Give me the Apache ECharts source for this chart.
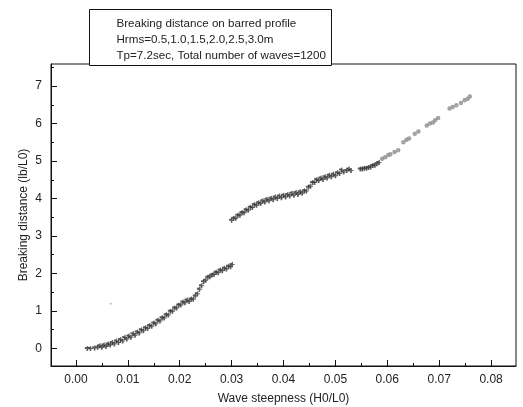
<!DOCTYPE html>
<html>
<head>
<meta charset="utf-8">
<script src="https://cdn.jsdelivr.net/npm/echarts@6/dist/echarts.min.js"></script>
<style>
  html, body { margin: 0; padding: 0; background: #fff; }
  #chart { width: 523px; height: 407px; }
</style>
</head>
<body>
<div id="chart"></div>
<script>
// Breaking distance (lb/L0) against deep-water wave steepness (H0/L0)

// Lower branch: steepness, breaking distance
const lowerBranch = [
  [0.0022,0.00],[0.0028,0.00],[0.0036,0.01],[0.0042,0.03],[0.0046,0.07],[0.0050,0.03],
  [0.0054,0.09],[0.0058,0.05],[0.0062,0.12],[0.0066,0.09],[0.0070,0.16],[0.0074,0.12],
  [0.0078,0.20],[0.0082,0.16],[0.0086,0.24],[0.0090,0.20],[0.0094,0.29],[0.0098,0.25],
  [0.0102,0.33],[0.0106,0.30],[0.0110,0.39],[0.0114,0.35],[0.0118,0.44],[0.0122,0.41],
  [0.0126,0.50],[0.0130,0.47],[0.0134,0.55],[0.0138,0.53],[0.0142,0.61],[0.0146,0.59],
  [0.0150,0.68],[0.0154,0.66],[0.0158,0.75],[0.0162,0.73],[0.0166,0.82],[0.0170,0.81],
  [0.0174,0.90],[0.0178,0.89],[0.0182,0.99],[0.0186,0.99],[0.0190,1.08],[0.0194,1.08],
  [0.0198,1.16],[0.0202,1.16],[0.0206,1.24],[0.0210,1.22],[0.0214,1.29],[0.0218,1.25],
  [0.0222,1.32],[0.0226,1.31],[0.0230,1.40],[0.0234,1.46],[0.0238,1.58],[0.0242,1.67],
  [0.0246,1.78],[0.0250,1.82],[0.0254,1.90],[0.0258,1.91],[0.0262,1.96],[0.0266,1.97],
  [0.0270,2.03],[0.0274,2.02],[0.0278,2.09],[0.0282,2.07],[0.0286,2.14],[0.0290,2.12],
  [0.0294,2.19],[0.0298,2.18],[0.0301,2.24]
];

// Upper branch after the jump at H0/L0 = 0.03
const upperBranch = [
  [0.0300,3.42],[0.0304,3.47],[0.0308,3.47],[0.0312,3.55],[0.0316,3.55],[0.0320,3.63],
  [0.0324,3.62],[0.0328,3.70],[0.0332,3.69],[0.0336,3.77],[0.0340,3.76],[0.0344,3.84],
  [0.0348,3.82],[0.0352,3.89],[0.0356,3.87],[0.0360,3.94],[0.0364,3.91],[0.0368,3.98],
  [0.0372,3.94],[0.0376,4.01],[0.0380,3.97],[0.0384,4.04],[0.0388,4.00],[0.0392,4.07],
  [0.0396,4.02],[0.0400,4.09],[0.0404,4.04],[0.0408,4.11],[0.0412,4.07],[0.0416,4.14],
  [0.0420,4.09],[0.0424,4.16],[0.0428,4.11],[0.0432,4.18],[0.0436,4.14],[0.0440,4.21],
  [0.0444,4.20],[0.0448,4.30],[0.0452,4.33],[0.0456,4.43],[0.0460,4.43],[0.0464,4.51],
  [0.0468,4.48],[0.0472,4.55],[0.0476,4.51],[0.0480,4.58],[0.0484,4.55],[0.0488,4.62],
  [0.0492,4.58],[0.0496,4.65],[0.0500,4.61],[0.0504,4.69],[0.0508,4.67],[0.0512,4.76],
  [0.0516,4.71],[0.0522,4.75],[0.0526,4.79],[0.0530,4.75],
  [0.0548,4.79],[0.0552,4.79],[0.0556,4.81],[0.0560,4.81],[0.0564,4.83],[0.0568,4.84],
  [0.0572,4.88],[0.0576,4.89],[0.0580,4.93],[0.0584,4.96]
];

// Steepest waves: scattered points
const steepTail = [
  [0.0590,5.06],[0.0596,5.10],[0.0602,5.16],[0.0606,5.18],[0.0614,5.24],[0.0621,5.29],
  [0.0631,5.50],[0.0637,5.57],[0.0642,5.60],[0.0653,5.73],[0.0660,5.79],[0.0676,5.95],
  [0.0682,6.00],[0.0688,6.03],[0.0692,6.09],[0.0698,6.15],[0.0720,6.40],[0.0726,6.44],
  [0.0733,6.49],[0.0742,6.55],[0.0749,6.62],[0.0755,6.66],[0.0759,6.72]
];

// Lone stray point
const strayPoints = [[0.0067,1.19]];

const xMajorTicks = [0.00,0.01,0.02,0.03,0.04,0.05,0.06,0.07,0.08];
const xMinorTicks = [0.005,0.015,0.025,0.035,0.045,0.055,0.065,0.075];
const yMajorTicks = [0,1,2,3,4,5,6,7];
const yMinorTicks = [0.5,1.5,2.5,3.5,4.5,5.5,6.5,7.5];

const noteLines = [
  'Breaking distance on barred profile',
  'Hrms=0.5,1.0,1.5,2.0,2.5,3.0m',
  'Tp=7.2sec, Total number of waves=1200'
];

const FONT = '"Liberation Sans", Arial, sans-serif';
const X_MIN = -0.0048, X_MAX = 0.0848;
const Y_MIN = -0.467, Y_MAX = 7.587;
const plusSymbol = 'path://M4,0h2v4h4v2h-4v4h-4v-4h-4v-4h4z';

const chart = echarts.init(document.getElementById('chart'), null, { renderer: 'canvas' });

const baseX = {
  type: 'value', min: X_MIN, max: X_MAX,
  splitLine: { show: false }
};
const baseY = {
  type: 'value', min: Y_MIN, max: Y_MAX,
  splitLine: { show: false }
};

chart.setOption({
  animation: false,
  backgroundColor: '#fff',
  grid: {
    left: 51, right: 7, top: 64, bottom: 41,
    outerBoundsMode: 'none', containLabel: false,
    show: true, borderColor: '#111', borderWidth: 1, backgroundColor: 'transparent'
  },
  xAxis: [
    Object.assign({}, baseX, {
      name: 'Wave steepness (H0/L0)',
      nameLocation: 'middle', nameGap: 27, nameMoveOverlap: false,
      nameTextStyle: { fontFamily: FONT, fontSize: 12, color: '#222' },
      axisLine: { show: true, onZero: false, lineStyle: { color: '#111', width: 1 } },
      axisTick: { show: true, inside: true, length: 6, customValues: xMajorTicks, lineStyle: { color: '#111' } },
      axisLabel: {
        show: true, customValues: xMajorTicks, margin: 8,
        fontFamily: FONT, fontSize: 12, color: '#222',
        formatter: v => v.toFixed(2)
      }
    }),
    Object.assign({}, baseX, {
      position: 'bottom',
      axisLine: { show: false, onZero: false },
      axisTick: { show: true, inside: true, length: 3, customValues: xMinorTicks, lineStyle: { color: '#111' } },
      axisLabel: { show: false }
    })
  ],
  yAxis: [
    Object.assign({}, baseY, {
      name: 'Breaking distance (lb/L0)',
      nameLocation: 'middle', nameGap: 21, nameRotate: 90, nameMoveOverlap: false,
      nameTextStyle: { fontFamily: FONT, fontSize: 12, color: '#222' },
      axisLine: { show: true, onZero: false, lineStyle: { color: '#111', width: 1 } },
      axisTick: { show: true, inside: true, length: 6, customValues: yMajorTicks, lineStyle: { color: '#111' } },
      axisLabel: {
        show: true, customValues: yMajorTicks, margin: 9,
        fontFamily: FONT, fontSize: 12, color: '#222',
        formatter: v => String(Math.round(v))
      }
    }),
    Object.assign({}, baseY, {
      position: 'left',
      axisLine: { show: false, onZero: false },
      axisTick: { show: true, inside: true, length: 3, customValues: yMinorTicks, lineStyle: { color: '#111' } },
      axisLabel: { show: false }
    })
  ],
  series: [
    {
      type: 'scatter', data: lowerBranch, symbol: plusSymbol, symbolSize: 5,
      itemStyle: { color: '#333' }
    },
    {
      type: 'scatter', data: upperBranch, symbol: plusSymbol, symbolSize: 5,
      itemStyle: { color: '#333' }
    },
    {
      type: 'scatter', data: steepTail, symbol: 'emptyCircle', symbolSize: 2.5,
      itemStyle: { color: '#8a8a8a', borderWidth: 0.8 }
    },
    {
      type: 'scatter', data: strayPoints, symbol: 'circle', symbolSize: 2,
      itemStyle: { color: '#aaa' }
    }
  ],
  graphic: [
    {
      type: 'group', left: 89, top: 9, z: 100,
      children: [
        {
          type: 'rect', shape: { x: 0, y: 0, width: 242, height: 56 },
          style: { fill: '#fff', stroke: '#111', lineWidth: 1 }
        }
      ].concat(noteLines.map((t, i) => ({
        type: 'text', x: 27, y: 8 + i * 16,
        style: { text: t, font: '11.6px ' + FONT, fill: '#222' }
      })))
    }
  ]
});
</script>
</body>
</html>
